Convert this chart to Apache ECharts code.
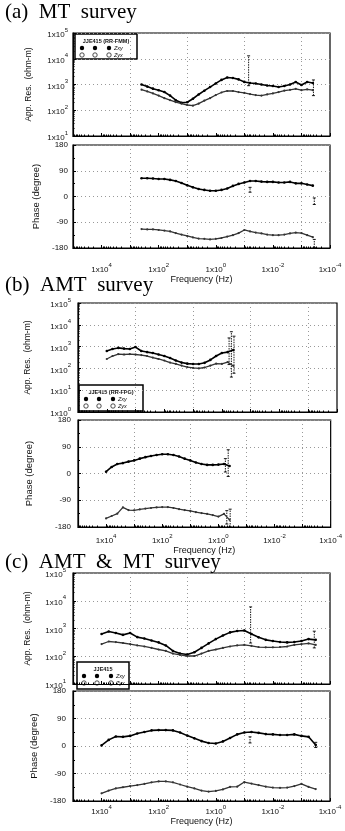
<!DOCTYPE html>
<html><head><meta charset="utf-8">
<script src="https://cdn.jsdelivr.net/npm/echarts@6/dist/echarts.min.js"></script>
<style>html,body{margin:0;padding:0;background:#fff;}#c{width:345px;height:831px;}</style>
</head><body><div id="c"></div>
<script>
// ---- data (frequency given as log10 of Hz) ----
const freqA = [2.6,2.4,2.2,2.0,1.8,1.6,1.4,1.2,1.0,0.8,0.6,0.4,0.2,0.0,-0.2,-0.4,-0.6,-0.8,-1.0,-1.2,-1.4,-1.6,-1.8,-2.0,-2.2,-2.4,-2.6,-2.8,-3.0,-3.2,-3.4];
const resA_xy = [1000,830,690,600,510,370,245,195,205,280,410,575,795,1100,1510,1860,1780,1580,1260,1150,1100,1000,910,870,795,870,1000,1250,950,1250,1150];
const resA_yx = [630,540,450,370,295,245,205,180,160,150,180,235,295,390,490,560,560,510,470,425,390,370,410,450,510,575,620,680,600,650,600];
const phaA_xy = [64,64,63,61,61,58,54,47,39,32,26,23,20,20,23,28,37,44,49,54,54,52,51,51,49,49,51,46,46,42,38];
const phaA_yx = [-114,-115,-115,-117,-119,-122,-128,-133,-138,-143,-147,-148,-150,-148,-145,-140,-135,-128,-117,-122,-126,-129,-133,-135,-135,-133,-129,-126,-128,-135,-142];
const errA_res = [[-1.15, 900, 13000], [-3.42, 370, 1500]];
const errA_pha = [[-1.2, 15, 32], [-3.45, -28, -5], [-3.45, -178, -150]];

const freqB = [4.0,3.8,3.6,3.4,3.2,3.0,2.8,2.6,2.4,2.2,2.0,1.8,1.6,1.4,1.2,1.0,0.8,0.6,0.4,0.2,0.0,-0.2,-0.4];
const resB_xy = [630,775,870,810,775,955,630,560,510,435,370,300,230,185,165,160,160,180,245,370,510,560,690];
const resB_yx = [270,370,455,435,455,435,410,370,315,270,230,185,160,135,115,105,100,110,135,165,160,195,130];
const phaB_xy = [6,22,32,35,40,44,50,55,59,62,65,65,62,57,50,44,37,32,29,29,30,32,25];
const phaB_yx = [-151,-143,-135,-114,-123,-124,-121,-118,-116,-114,-113,-113,-116,-120,-123,-126,-130,-133,-136,-140,-145,-136,-156];
const errB_res = [[-0.25, 150, 2500], [-0.33, 40, 4800], [-0.42, 60, 3000]];
const errB_pha = [[-0.25, 5, 50], [-0.35, -10, 80], [-0.3, -170, -125], [-0.42, -180, -120]];

const freqC = [4.0,3.75,3.5,3.25,3.0,2.75,2.5,2.25,2.0,1.75,1.5,1.25,1.0,0.75,0.5,0.25,0.0,-0.25,-0.5,-0.75,-1.0,-1.25,-1.5,-1.75,-2.0,-2.25,-2.5,-2.75,-3.0,-3.25,-3.5];
const resC_xy = [630,775,690,590,690,490,435,370,315,245,155,125,115,140,200,290,415,560,725,815,850,630,480,390,355,325,315,325,355,415,390];
const resC_yx = [275,340,325,300,275,245,225,200,175,155,125,112,102,102,125,155,175,200,225,245,255,235,215,210,210,215,225,255,275,290,255];
const phaC_xy = [2,20,31,30,33,41,46,51,52,52,51,44,34,25,16,10,8,15,26,38,44,46,43,39,38,36,36,38,33,30,3];
const phaC_yx = [-155,-146,-139,-135,-131,-128,-124,-119,-116,-116,-119,-126,-133,-139,-146,-149,-147,-142,-134,-133,-118,-123,-128,-133,-136,-137,-136,-131,-124,-134,-141];
const errC_res = [[-1.22, 300, 6000], [-3.45, 200, 800]];
const errC_pha = [[-1.2, 10, 30], [-3.5, -5, 12]];

const titles = ['(a)  MT  survey', '(b)  AMT  survey', '(c)  AMT  &  MT  survey'];
const legendTitles = ['JJE415 (RR-FMM)', 'JJE415 (RR-FPG)', 'JJE415'];
const seriesNames = ['Zxy', 'Zyx'];

// ---- layout ----
const FONT = "'Liberation Sans', Arial, sans-serif";
const SERIF = "'Liberation Serif', 'Times New Roman', serif";
const panels = [
  {res:{left:73,top:33,width:257,height:103}, pha:{left:73,top:145,width:257,height:103}, resMin:10,
   f:freqA, rx:resA_xy, ry:resA_yx, px:phaA_xy, py:phaA_yx, er:errA_res, ep:errA_pha,
   labM:14, nameGap:21, resGap:40, phaGap:31, yLabM:5, titleTop:2,
   lg:{x:75,y:34,w:62,h:25}},
  {res:{left:78,top:303,width:259,height:109}, pha:{left:78,top:420,width:259,height:107}, resMin:1,
   f:freqB, rx:resB_xy, ry:resB_yx, px:phaB_xy, py:phaB_yx, er:errB_res, ep:errB_pha,
   labM:6, nameGap:9, resGap:46, phaGap:44, yLabM:7, titleTop:275,
   lg:{x:79,y:385,w:64,h:26}},
  {res:{left:73,top:573,width:257,height:111}, pha:{left:73,top:691,width:257,height:110}, resMin:10,
   f:freqC, rx:resC_xy, ry:resC_yx, px:phaC_xy, py:phaC_yx, er:errC_res, ep:errC_pha,
   labM:3, nameGap:9, resGap:41, phaGap:31, yLabM:7, titleTop:552,
   lg:{x:77,y:662,w:52,h:27}}
];

const rich = {
  b: {fontSize: 8, fontFamily: FONT, color: '#111', lineHeight: 12, verticalAlign: 'bottom'},
  s: {fontSize: 6, fontFamily: FONT, color: '#111', lineHeight: 12, verticalAlign: 'top'}
};
const sup = e => '{b|1x10}{s|' + e + '}';
const pairs = (f, v) => f.map((x, i) => [x, v[i]]);

const grid = [], xAxis = [], yAxis = [], series = [], title = [], graphic = [];
const dotted = {color: '#999', type: [1, 3], width: 1};

panels.forEach((p, k) => {
  title.push({text: titles[k], left: 5, top: p.titleTop, padding: 0,
    textStyle: {fontFamily: SERIF, fontSize: 21, fontWeight: 'normal', color: '#000'}});
  [p.res, p.pha].forEach((g, j) => {
    const gi = grid.length;
    const isPha = j === 1;
    grid.push(Object.assign({show: true, borderColor: '#000', borderWidth: 1.2, backgroundColor: 'transparent'}, g));
    xAxis.push({type: 'value', gridIndex: gi, min: -4, max: 5, interval: 2, inverse: true, position: 'bottom',
      axisLine: {show: true, onZero: false, lineStyle: {color: '#000', width: 1.2}},
      axisTick: {show: false},
      axisLabel: {show: isPha, showMaxLabel: false, margin: p.labM, formatter: v => sup(v), rich: rich},
      splitLine: {show: false},
      minorTick: {show: false, splitNumber: 2},
      minorSplitLine: {show: true, lineStyle: dotted},
      name: isPha ? 'Frequency (Hz)' : '', nameLocation: 'middle', nameGap: p.nameGap,
      nameTextStyle: {fontFamily: FONT, fontSize: 9, color: '#111'}
    });
    yAxis.push(isPha ? {
      type: 'value', gridIndex: gi, min: -180, max: 180, interval: 90,
      axisLine: {show: true, onZero: false, lineStyle: {color: '#000', width: 1.2}},
      axisTick: {show: true, inside: true, length: 3, lineStyle: {color: '#000'}},
      minorTick: {show: true, splitNumber: 2, length: 2, lineStyle: {color: '#000'}},
      axisLabel: {margin: p.yLabM, fontFamily: FONT, fontSize: 8, color: '#111'},
      splitLine: {show: true, lineStyle: dotted},
      name: 'Phase (degree)', nameLocation: 'middle', nameGap: p.phaGap, nameRotate: 90,
      nameTextStyle: {fontFamily: FONT, fontSize: 9.5, color: '#111'}
    } : {
      type: 'log', logBase: 10, gridIndex: gi, min: p.resMin, max: 1e5,
      axisLine: {show: true, onZero: false, lineStyle: {color: '#000', width: 1.2}},
      axisTick: {show: true, inside: true, length: 3, lineStyle: {color: '#000'}},
      minorTick: {show: true, splitNumber: 9, length: 1.5, lineStyle: {color: '#000'}},
      axisLabel: {margin: p.yLabM, formatter: v => sup(Math.round(Math.log10(v))), rich: rich},
      splitLine: {show: true, lineStyle: dotted},
      name: 'App. Res.  (ohm-m)', nameLocation: 'middle', nameGap: p.resGap, nameRotate: 90,
      nameTextStyle: {fontFamily: FONT, fontSize: 8.5, color: '#111'}
    });
    const d1 = isPha ? p.px : p.rx, d2 = isPha ? p.py : p.ry, er = isPha ? p.ep : p.er;
    series.push({type: 'line', name: seriesNames[0], xAxisIndex: gi, yAxisIndex: gi, data: pairs(p.f, d1),
      symbol: 'circle', symbolSize: 2.6, showAllSymbol: true, silent: true, animation: false,
      itemStyle: {color: '#000'}, lineStyle: {color: '#000', width: 1.6}});
    series.push({type: 'line', name: seriesNames[1], xAxisIndex: gi, yAxisIndex: gi, data: pairs(p.f, d2),
      symbol: 'circle', symbolSize: 2.2, showAllSymbol: true, silent: true, animation: false,
      itemStyle: {color: '#333'}, lineStyle: {color: '#333', width: 1.3}});
    series.push({type: 'custom', xAxisIndex: gi, yAxisIndex: gi, data: er, silent: true, animation: false,
      encode: {x: 0, y: [1, 2]},
      renderItem: (params, api) => {
        const x = api.value(0), a = api.coord([x, api.value(1)]), b = api.coord([x, api.value(2)]);
        const st = {stroke: '#000', lineWidth: 0.9};
        return {type: 'group', children: [
          {type: 'line', shape: {x1: a[0], y1: a[1], x2: b[0], y2: b[1]}, style: {stroke: '#000', lineWidth: 0.9, lineDash: [1.5, 1]}},
          {type: 'line', shape: {x1: a[0] - 1.5, y1: a[1], x2: a[0] + 1.5, y2: a[1]}, style: st},
          {type: 'line', shape: {x1: b[0] - 1.5, y1: b[1], x2: b[0] + 1.5, y2: b[1]}, style: st}
        ]};
      }});
  });
  // legend box
  const L = p.lg;
  const fs = 5.5;
  const cx = [L.x + 7, L.x + 20, L.x + 34];
  const children = [
    {type: 'rect', shape: {x: L.x, y: L.y, width: L.w, height: L.h}, style: {fill: '#fff', stroke: '#000', lineWidth: 1.5}},
    {type: 'text', x: L.x + L.w / 2, y: L.y + 7, style: {text: legendTitles[k], fontFamily: FONT, fontSize: fs, fontWeight: 'bold', fill: '#111', align: 'center', verticalAlign: 'middle'}}
  ];
  [0, 1].forEach(r => {
    const yy = L.y + 14 + r * 7;
    cx.forEach(x => children.push({type: 'circle', shape: {cx: x, cy: yy, r: 2.2},
      style: r === 0 ? {fill: '#000'} : {fill: '#fff', stroke: '#222', lineWidth: 0.8}}));
    children.push({type: 'text', x: L.x + 39, y: yy, style: {text: seriesNames[r], fontFamily: FONT, fontSize: fs, fontStyle: 'italic', fill: '#111', verticalAlign: 'middle'}});
  });
  graphic.push({type: 'group', children: children, z: 100});
});

// log-spaced tick marks along each frequency axis
for (let gi = 0; gi < 6; gi++) {
  xAxis.push({type: 'log', logBase: 10, gridIndex: gi, min: 1e-4, max: 1e5, inverse: true, position: 'bottom',
    axisLine: {show: false, onZero: false}, axisLabel: {show: false}, splitLine: {show: false},
    axisTick: {show: true, inside: true, length: 3, lineStyle: {color: '#000'}},
    minorTick: {show: true, splitNumber: 9, length: 1.5, lineStyle: {color: '#000'}}});
}

const chart = echarts.init(document.getElementById('c'), null, {renderer: 'canvas'});
chart.setOption({animation: false, backgroundColor: '#fff', title, grid, xAxis, yAxis, series, graphic});
</script></body></html>
